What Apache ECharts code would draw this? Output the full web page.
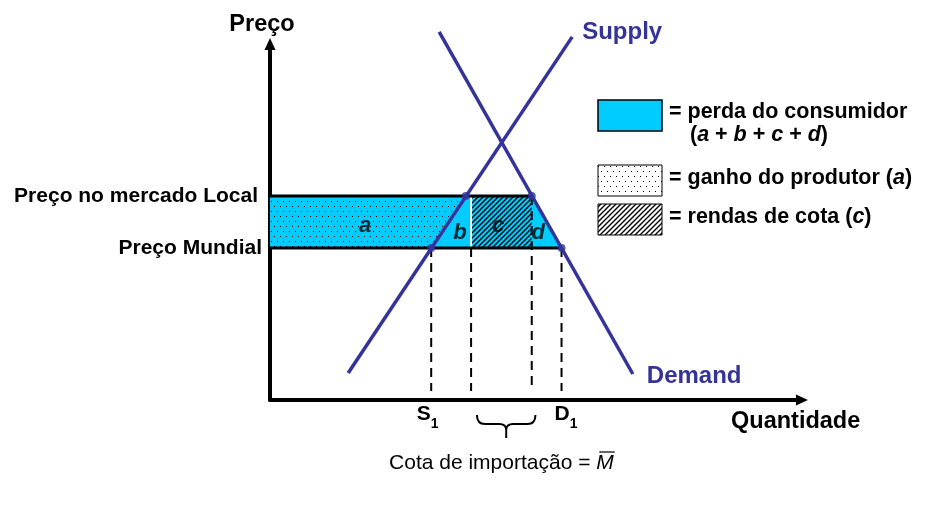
<!DOCTYPE html>
<html><head><meta charset="utf-8">
<script src="https://cdn.jsdelivr.net/npm/echarts@6/dist/echarts.min.js"></script>
<style>html,body{margin:0;padding:0;background:#fff}#c{width:926px;height:516px}</style>
</head><body><div id="c"></div>
<script>
// ---------------- data ----------------
const worldPrice = 42.7;          // Preço Mundial
const localPrice = 57.3;          // Preço no mercado Local
const supplyLine = [[14.7, 7.6], [56.8, 102.0]];
const demandLine = [[31.8, 103.4], [68.2, 7.3]];
const qS1 = 30.3;      // supply at world price
const qS2 = 36.8;      // supply at local price
const qQuota = 37.8;   // start of quota-rent area
const qD2 = 49.2;      // demand at local price
const qD1 = 54.8;      // demand at world price
const dropBottom = 2.5;
const areaLabels = [['a', 17.9, 48.9], ['b', 35.7, 46.9], ['c', 42.9, 48.9], ['d', 50.4, 46.9]];
const yTickLabels = ['Preço Mundial', 'Preço no mercado Local'];
const xTickLabels = ['S', 'D'];
const braceRange = [38.9, 49.9];

// ---------------- styles ----------------
const BLUE = '#333399', CYAN = '#00CCFF';
const FONT = '"Liberation Sans", Arial, Helvetica, sans-serif';

function dotPattern() {
  const c = document.createElement('canvas'); c.width = 12; c.height = 10;
  const g = c.getContext('2d'); g.fillStyle = '#000';
  [[1, 1], [7, 1], [4, 6], [10, 6]].forEach(p => g.fillRect(p[0], p[1], 1, 1));
  return { image: c, repeat: 'repeat' };
}
function hatchPattern() {
  const s = 5, c = document.createElement('canvas'); c.width = s; c.height = s;
  const g = c.getContext('2d'); g.strokeStyle = '#000'; g.lineWidth = 1.4;
  g.beginPath();
  g.moveTo(0, s); g.lineTo(s, 0);
  g.moveTo(-1, 1); g.lineTo(1, -1);
  g.moveTo(s - 1, s + 1); g.lineTo(s + 1, s - 1);
  g.stroke();
  return { image: c, repeat: 'repeat' };
}
const DOTS = dotPattern(), HATCH = hatchPattern();

function polySeries(name, pts, fill, z) {
  return {
    type: 'custom', name, z, silent: true, animation: false,
    data: [pts[0]],
    renderItem: (p, api) => ({
      type: 'polygon',
      shape: { points: pts.map(pt => api.coord(pt)) },
      style: { fill: fill, stroke: null }
    })
  };
}
function seg(name, pts, color, width, type, z) {
  return {
    type: 'line', name, data: pts, symbol: 'none', silent: true, clip: false, z,
    animation: false, lineStyle: { color, width, type, cap: 'butt' }
  };
}

const series = [];
series.push(polySeries('perda', [[0, localPrice], [qD2, localPrice], [qD1, worldPrice], [0, worldPrice]], CYAN, 1));
series.push(polySeries('ganho', [[0, localPrice], [qS2, localPrice], [qS1, worldPrice], [0, worldPrice]], DOTS, 2));
series.push(polySeries('rendas', [[qQuota, localPrice], [qD2, localPrice], [qD2, worldPrice], [qQuota, worldPrice]], HATCH, 3));
series.push(seg('sep', [[qQuota, localPrice], [qQuota, worldPrice]], '#fff', 2, 'solid', 4));
[[qS1, worldPrice], [qQuota, worldPrice], [qD2, localPrice], [qD1, worldPrice]].forEach((d, i) => {
  series.push(seg('drop' + i, [[d[0], d[1]], [d[0], dropBottom]], '#000', 2, [9, 6], 5));
});
series.push(seg('local', [[0, localPrice], [qD2, localPrice]], '#000', 3, 'solid', 6));
series.push(seg('world', [[0, worldPrice], [qD1, worldPrice]], '#000', 3, 'solid', 6));
const sd = (name, data) => ({
  type: 'line', name, data, symbol: 'none', silent: true, clip: false, z: 7, animation: false,
  lineStyle: { color: BLUE, width: 3.5 },
  endLabel: { show: true, formatter: name, color: BLUE, fontFamily: FONT, fontWeight: 'bold', fontSize: 24,
              distance: 10, offset: name === 'Supply' ? [0, -5] : [4, 2] }
});
series.push(sd('Supply', supplyLine));
series.push(sd('Demand', demandLine));
series.push({
  type: 'scatter', name: 'pts', z: 8, silent: true, animation: false,
  symbolSize: 8, itemStyle: { color: BLUE },
  data: [[qS1, worldPrice], [qS2, localPrice], [qD2, localPrice], [qD1, worldPrice]]
});
series.push({
  type: 'scatter', name: 'letters', z: 9, silent: true, animation: false, symbolSize: 0,
  data: areaLabels.map(l => ({ name: l[0], value: [l[1], l[2]] })),
  label: { show: true, position: 'inside', formatter: '{b}', color: '#000', fontFamily: FONT,
           fontWeight: 'bold', fontStyle: 'italic', fontSize: 22 }
});
series.push({
  type: 'custom', name: 'brace', z: 9, silent: true, animation: false,
  data: [[braceRange[0], 0]],
  renderItem: (p, api) => {
    const a = api.coord([braceRange[0], 0]), b = api.coord([braceRange[1], 0]);
    const m = api.coord([(qQuota + qD2) / 2, 0]);
    const x0 = a[0], x1 = b[0], cx = (x0 + x1) / 2;
    const y0 = a[1] + 15, y1 = a[1] + 24, y2 = a[1] + 38;
    const path = `M${x0} ${y0} Q${x0} ${y1} ${x0 + 8} ${y1} L${cx - 7} ${y1} Q${cx} ${y1} ${cx} ${y1 + 6} L${cx} ${y2} ` +
                 `M${x1} ${y0} Q${x1} ${y1} ${x1 - 8} ${y1} L${cx + 7} ${y1} Q${cx} ${y1} ${cx} ${y1 + 6}`;
    const fs = 21;
    const ctx = document.createElement('canvas').getContext('2d');
    ctx.font = fs + 'px ' + FONT;
    const txt = 'Cota de importação = ';
    const wN = ctx.measureText(txt).width;
    ctx.font = 'italic ' + fs + 'px ' + FONT;
    const wM = ctx.measureText('M').width;
    const ty = a[1] + 63;
    const left = m[0] - (wN + wM) / 2;
    const ms = left + wN;
    return {
      type: 'group', children: [
        { type: 'path', shape: { pathData: path }, style: { fill: null, stroke: '#000', lineWidth: 2 } },
        { type: 'text', style: {
            text: '{n|' + txt + '}{m|M}', x: left, y: ty, align: 'left', verticalAlign: 'middle',
            rich: {
              n: { fontSize: fs, fontFamily: FONT, fontWeight: 'normal', fontStyle: 'normal', fill: '#000' },
              m: { fontSize: fs, fontFamily: FONT, fontWeight: 'normal', fontStyle: 'italic', fill: '#000' }
            } } },
        { type: 'line', shape: { x1: ms + 3, y1: ty - 11, x2: ms + wM + 1, y2: ty - 11 }, style: { stroke: '#000', lineWidth: 1.2 } }
      ]
    };
  }
});

const boldText = { fontFamily: FONT, fontWeight: 'bold', color: '#000' };
const legendFont = { fontSize: 21.5, fontFamily: FONT, fontWeight: 'bold', fill: '#000' };
const italicRich = { i: { ...legendFont, fontStyle: 'italic' } };

const option = {
  backgroundColor: '#fff',
  animation: false,
  grid: { left: 270, right: 124, top: 44, bottom: 116, outerBoundsMode: 'none', containLabel: false },
  xAxis: {
    type: 'value', min: 0, max: 100,
    axisLine: { show: true, symbol: ['none', 'triangle'], symbolSize: [11, 12], lineStyle: { color: '#000', width: 4 } },
    axisTick: { show: false }, splitLine: { show: false },
    axisLabel: {
      customValues: [qS1, qD1], margin: 4, verticalAlign: 'top',
      formatter: v => Math.abs(v - qS1) < 0.01
        ? '{s|' + xTickLabels[0] + '}{sub|1}{gapR|}'
        : '{gapL|}{s|' + xTickLabels[1] + '}{sub|1}',
      rich: {
        s: { fontSize: 21, lineHeight: 22, verticalAlign: 'top', ...boldText },
        sub: { fontSize: 14, lineHeight: 27, verticalAlign: 'bottom', ...boldText },
        gapR: { width: 7, fontSize: 14 },
        gapL: { width: 9, fontSize: 14 }
      }
    },
    name: 'Quantidade', nameLocation: 'end', nameGap: -71, nameMoveOverlap: false,
    nameTextStyle: { fontSize: 23.5, ...boldText, verticalAlign: 'top', lineHeight: 44 }
  },
  yAxis: {
    type: 'value', min: 0, max: 100,
    axisLine: { show: true, symbol: ['none', 'triangle'], symbolSize: [11, 12], lineStyle: { color: '#000', width: 4 } },
    axisTick: { show: false }, splitLine: { show: false },
    axisLabel: {
      customValues: [worldPrice, localPrice], margin: 8,
      formatter: v => Math.abs(v - worldPrice) < 0.01 ? '{w|' + yTickLabels[0] + '}' : '{l|' + yTickLabels[1] + '}',
      rich: {
        w: { fontSize: 21, ...boldText },
        l: { fontSize: 21, ...boldText, padding: [0, 4, 0, 0] }
      }
    },
    name: 'Preço', nameLocation: 'end', nameGap: 7, nameMoveOverlap: false,
    nameTextStyle: { fontSize: 23.5, ...boldText, padding: [0, 16, 0, 0] }
  },
  graphic: [
    { type: 'rect', shape: { x: 598, y: 100, width: 64, height: 31 }, style: { fill: CYAN, stroke: '#000', lineWidth: 1.5 } },
    { type: 'rect', shape: { x: 598, y: 165, width: 64, height: 31 }, style: { fill: '#fff', stroke: null } },
    { type: 'rect', shape: { x: 598, y: 165, width: 64, height: 31 }, style: { fill: DOTS, stroke: '#000', lineWidth: 1 } },
    { type: 'rect', shape: { x: 598, y: 204, width: 64, height: 31 }, style: { fill: '#fff', stroke: null } },
    { type: 'rect', shape: { x: 598, y: 204, width: 64, height: 31 }, style: { fill: HATCH, stroke: '#000', lineWidth: 1 } },
    { type: 'text', style: { text: '= perda do consumidor', x: 669, y: 112, verticalAlign: 'middle', ...legendFont } },
    { type: 'text', style: { text: '({i|a} + {i|b} + {i|c} + {i|d})', x: 690, y: 135, verticalAlign: 'middle', ...legendFont, rich: italicRich } },
    { type: 'text', style: { text: '= ganho do produtor ({i|a})', x: 669, y: 178, verticalAlign: 'middle', ...legendFont, rich: italicRich } },
    { type: 'text', style: { text: '= rendas de cota ({i|c})', x: 669, y: 217, verticalAlign: 'middle', ...legendFont, rich: italicRich } }
  ],
  series
};

const chart = echarts.init(document.getElementById('c'), null, { renderer: 'canvas' });
chart.setOption(option);
</script>
</body></html>
